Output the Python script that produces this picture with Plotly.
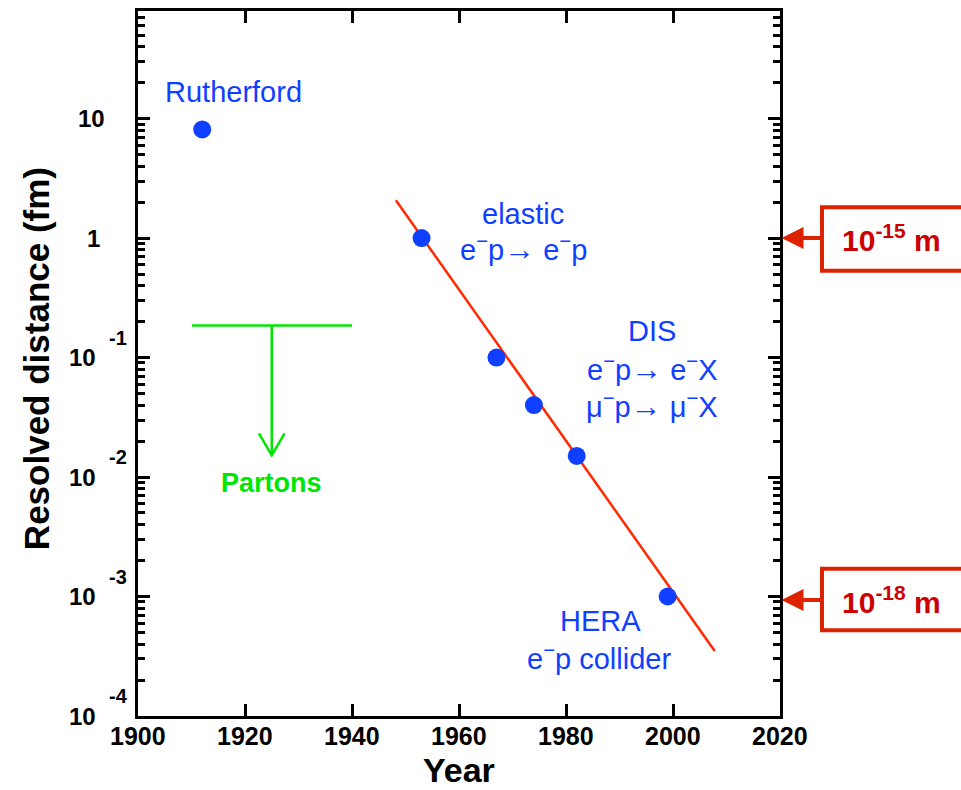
import plotly.graph_objects as go

# ---- data ----
years = [1912, 1953, 1967, 1974, 1982, 1999]
distance_fm = [8.1, 1.0, 0.1, 0.04, 0.015, 0.001]

fit_years = [1948.2, 2007.8]
fit_distance = [2.07, 3.5e-4]

parton_bar_x = [1910.1, 1940.0]
parton_bar_y = [0.185, 0.185]
parton_stem_x = [1925.0, 1925.0]
parton_stem_y = [0.185, 0.0152]
parton_head_x = [1922.6, 1925.0, 1927.4]
parton_head_y = [0.0232, 0.0152, 0.0232]

x_ticks = [1900, 1920, 1940, 1960, 1980, 2000, 2020]
x_tick_labels = ["1900", "1920", "1940", "1960", "1980", "2000", "2020"]
y_exponents = [-4, -3, -2, -1, 0, 1]

ARROW = "<span style='font-size:31px'>→</span>"
MINUS = "<sup>−</sup>"
# labels: (text, x, log10 y)
blue_labels = [
    ("Rutherford", 1917.9, 1.223),
    ("elastic", 1972.0, 0.205),
    ("e" + MINUS + "p" + ARROW + " e" + MINUS + "p", 1972.0, -0.085),
    ("DIS", 1996.1, -0.779),
    ("e" + MINUS + "p" + ARROW + " e" + MINUS + "X", 1996.1, -1.095),
    ("μ" + MINUS + "p" + ARROW + " μ" + MINUS + "X", 1996.1, -1.398),
    ("HERA", 1986.5, -3.206),
    ("e" + MINUS + "p collider", 1986.2, -3.51),
]
scale_boxes = [("10<sup>-15</sup> m", 0.0), ("10<sup>-18</sup> m", -3.03)]

FONT = "Liberation Sans, Arial, sans-serif"
BLUE = "#1040ff"
GREEN = "#00e600"
RED = "#ff2a00"
BOXRED = "#dd2200"
TEXTRED = "#cc0000"

fig = go.Figure()

fig.add_trace(go.Scatter(x=fit_years, y=fit_distance, mode="lines",
                         line=dict(color=RED, width=2.5), hoverinfo="skip"))
fig.add_trace(go.Scatter(x=years, y=distance_fm, mode="markers",
                         marker=dict(color=BLUE, size=18, line=dict(width=0))))
for xs, ys in [(parton_bar_x, parton_bar_y), (parton_stem_x, parton_stem_y),
               (parton_head_x, parton_head_y)]:
    fig.add_trace(go.Scatter(x=xs, y=ys, mode="lines",
                             line=dict(color=GREEN, width=2.5), hoverinfo="skip"))

ann = []
for txt, x, y in blue_labels:
    ann.append(dict(text=txt, x=x, y=y, xref="x", yref="y", showarrow=False,
                    xanchor="center", yanchor="middle",
                    font=dict(family=FONT, size=29, color=BLUE)))
ann.append(dict(text="<b>Partons</b>", x=1925, y=-2.05, xref="x", yref="y",
                showarrow=False, font=dict(family=FONT, size=27, color=GREEN)))

# x tick labels
for xv, lab in zip(x_ticks, x_tick_labels):
    ann.append(dict(text="<b>" + lab + "</b>", x=xv, y=0, xref="x", yref="paper",
                    xanchor="center", yanchor="top", yshift=-4, showarrow=False,
                    font=dict(family=FONT, size=25, color="black")))

# y tick labels
for e in y_exponents:
    if e == 0:
        ann.append(dict(text="<b>1</b>", x=0, y=e, xref="paper", yref="y",
                        xanchor="right", yanchor="middle", xshift=-36, showarrow=False,
                        font=dict(family=FONT, size=24, color="black")))
    elif e == 1:
        ann.append(dict(text="<b>10</b>", x=0, y=e, xref="paper", yref="y",
                        xanchor="right", yanchor="middle", xshift=-31, showarrow=False,
                        font=dict(family=FONT, size=24, color="black")))
    else:
        ann.append(dict(text="<b>10</b>", x=0, y=e, xref="paper", yref="y",
                        xanchor="right", yanchor="middle", xshift=-40, showarrow=False,
                        font=dict(family=FONT, size=24, color="black")))
        ann.append(dict(text="<b>%d</b>" % e, x=0, y=e, xref="paper", yref="y",
                        xanchor="left", yanchor="middle", xshift=-31, yshift=20,
                        showarrow=False,
                        font=dict(family=FONT, size=20, color="black")))

# axis titles
ann.append(dict(text="<b>Year</b>", x=0.5, y=-0.077, xref="paper", yref="paper",
                xanchor="center", yanchor="middle", showarrow=False,
                font=dict(family=FONT, size=34, color="black")))
ann.append(dict(text="<b>Resolved distance (fm)</b>", x=-0.158, y=0.507,
                xref="paper", yref="paper", textangle=-90,
                xanchor="center", yanchor="middle", showarrow=False,
                font=dict(family=FONT, size=35, color="black")))

# scale boxes with arrows
shapes = []
box_y = [(0.6314, 0.7218), (0.1215, 0.209)]
for (txt, ylog), (y0, y1) in zip(scale_boxes, box_y):
    shapes.append(dict(type="rect", xref="paper", yref="paper",
                       x0=1.0654, x1=1.32, y0=y0, y1=y1,
                       line=dict(color=BOXRED, width=4), fillcolor="rgba(0,0,0,0)"))
    ann.append(dict(text="", x=1, y=ylog, xref="paper", yref="y",
                    ax=43, ay=0, axref="pixel", ayref="pixel", showarrow=True,
                    arrowhead=2, arrowsize=1.1, arrowwidth=4, arrowcolor=BOXRED,
                    xshift=1.5, standoff=0))
    ann.append(dict(text="<b>" + txt + "</b>", x=1.173, y=ylog, xref="paper", yref="y",
                    xanchor="center", yanchor="middle", showarrow=False,
                    font=dict(family=FONT, size=30, color=TEXTRED)))

fig.update_layout(
    width=961, height=790,
    margin=dict(l=138, r=181, t=8, b=74),
    plot_bgcolor="white", paper_bgcolor="white",
    showlegend=False,
    annotations=ann, shapes=shapes,
    font=dict(family=FONT, color="black"),
)
fig.update_xaxes(range=[1900, 2020], tickvals=x_ticks, ticks="inside", ticklen=12,
                 tickwidth=3, tickcolor="black", showline=True, linewidth=3,
                 linecolor="black", mirror="allticks", showgrid=False, zeroline=False,
                 showticklabels=False)
fig.update_yaxes(type="log", range=[-4, 1.9], tickvals=[10.0 ** e for e in y_exponents],
                 ticks="inside", ticklen=12, tickwidth=3, tickcolor="black",
                 showline=True, linewidth=3, linecolor="black", mirror="allticks",
                 showgrid=False, zeroline=False, showticklabels=False,
                 minor=dict(ticks="inside", ticklen=7, tickwidth=2.5, tickcolor="black",
                            dtick="D1", showgrid=False))

fig.write_html("out.html",
               config={"displayModeBar": False},
               post_script="document.body.style.margin='0px';"
                           "document.body.style.padding='0px';"
                           "document.body.style.overflow='hidden';")
